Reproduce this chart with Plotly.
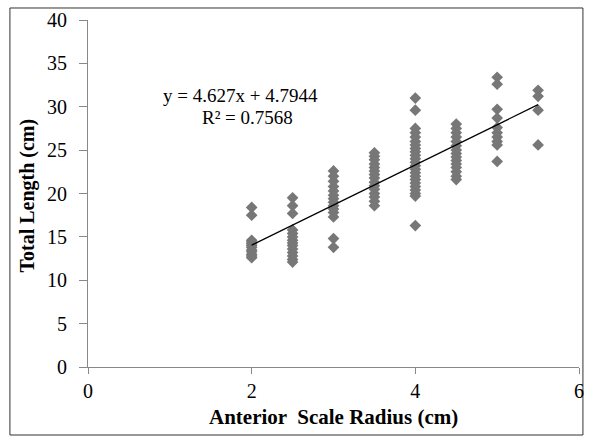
import plotly.graph_objects as go

# Data: anterior scale radius (cm) groups and total lengths (cm)
radius_groups = [2.0, 2.5, 3.0, 3.5, 4.0, 4.5, 5.0, 5.5]
lengths_by_group = [
    [18.4, 17.5, 14.6, 14.4, 14.2, 14.0, 13.8, 13.5, 13.3, 13.0, 12.8, 12.6],
    [19.5, 18.6, 17.7, 15.8, 15.4, 15.0, 14.6, 14.3, 14.0, 13.6, 13.2, 12.8, 12.4, 12.1],
    [22.6, 22.0, 21.4, 20.8, 20.3, 19.8, 19.4, 19.0, 18.6, 18.2, 17.8, 17.3, 14.8, 13.8],
    [24.7, 24.3, 23.9, 23.4, 23.0, 22.6, 22.2, 21.8, 21.3, 20.9, 20.5, 20.0, 19.6, 19.1, 18.6],
    [31.0, 29.6, 27.5, 27.0, 26.5, 26.0, 25.6, 25.2, 24.8, 24.4, 24.0, 23.6, 23.2, 22.8,
     22.4, 22.0, 21.6, 21.2, 20.8, 20.4, 20.0, 19.7, 16.3],
    [28.0, 27.5, 27.0, 26.5, 26.0, 25.5, 25.0, 24.6, 24.2, 23.8, 23.4, 23.0, 22.5, 22.0, 21.6],
    [33.4, 32.6, 29.7, 28.7, 27.6, 27.0, 26.5, 26.0, 25.6, 23.7],
    [31.9, 31.2, 29.6, 25.6],
]
slope = 4.627
intercept = 4.7944
r_squared = 0.7568

x_ticks = [0, 2, 4, 6]
y_ticks = [0, 5, 10, 15, 20, 25, 30, 35, 40]
x_title = "Anterior  Scale Radius (cm)"
y_title = "Total Length (cm)"

xs, ys = [], []
for g, vals in zip(radius_groups, lengths_by_group):
    xs += [g] * len(vals)
    ys += vals

x_line = [min(xs), max(xs)]
y_line = [slope * v + intercept for v in x_line]

FONT = "Liberation Serif"

fig = go.Figure()
fig.add_trace(go.Scatter(
    x=xs, y=ys, mode="markers",
    marker=dict(symbol="diamond", size=9, color="#777777", line=dict(width=0)),
    showlegend=False,
))
fig.add_trace(go.Scatter(
    x=x_line, y=y_line, mode="lines",
    line=dict(color="#000000", width=1.3),
    showlegend=False,
))

fig.add_annotation(x=1.86, y=31.3, xref="x", yref="y", showarrow=False,
                   text=f"y = {slope}x + {intercept}",
                   font=dict(family=FONT, size=19, color="black"))
fig.add_annotation(x=1.95, y=28.8, xref="x", yref="y", showarrow=False,
                   text=f"R² = {r_squared}",
                   font=dict(family=FONT, size=19, color="black"))

# axis titles
fig.add_annotation(x=0.5, y=-0.144, xref="paper", yref="paper", showarrow=False,
                   text=f"<b>{x_title}</b>", xanchor="center", yanchor="middle",
                   font=dict(family=FONT, size=21, color="black"))
fig.add_annotation(x=-0.123, y=0.493, xref="paper", yref="paper", showarrow=False,
                   text=f"<b>{y_title}</b>", textangle=-90, xanchor="center", yanchor="middle",
                   font=dict(family=FONT, size=20, color="black"))

# outer frame
fig.add_shape(type="rect", xref="paper", yref="paper",
              x0=-0.159, x1=1.008, y0=-0.196, y1=1.0346,
              line=dict(color="#333333", width=1), fillcolor="rgba(0,0,0,0)",
              layer="below")

fig.update_layout(
    width=590, height=438,
    margin=dict(l=88, r=6, t=20, b=71),
    paper_bgcolor="white", plot_bgcolor="white",
    font=dict(family=FONT, size=20, color="black"),
    xaxis=dict(
        range=[0, 6], tickvals=x_ticks, ticktext=[str(t) for t in x_ticks],
        showgrid=False, zeroline=False, showline=True, linecolor="#888888", linewidth=1,
        ticks="outside", ticklen=6, tickcolor="#888888",
        tickfont=dict(family=FONT, size=20, color="black"),
    ),
    yaxis=dict(
        range=[0, 40], tickvals=y_ticks, ticktext=[str(t) for t in y_ticks],
        showgrid=False, zeroline=False, showline=True, linecolor="#888888", linewidth=1,
        ticks="outside", ticklen=8, tickcolor="#888888", ticklabelstandoff=8,
        tickfont=dict(family=FONT, size=20, color="black"),
    ),
)

fig.write_html("out.html")
